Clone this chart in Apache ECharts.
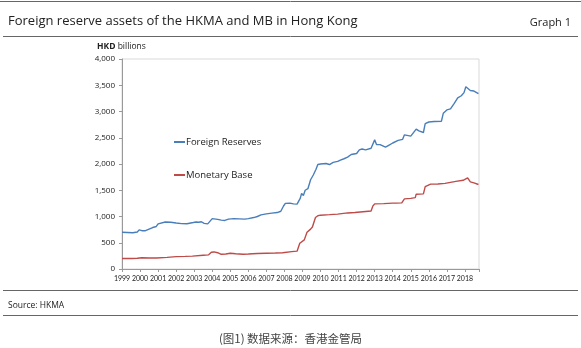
<!DOCTYPE html>
<html>
<head>
<meta charset="utf-8">
<script src="https://cdn.jsdelivr.net/npm/echarts@6/dist/echarts.min.js"></script>
<style>
html,body{margin:0;padding:0;background:#fff;}
#c{width:581px;height:348px;}
</style>
</head>
<body>
<div id="c"></div>
<script>
// Foreign Reserves (HKD billions), sampled at fractional years
const fxYears = [1999.0,1999.3,1999.6,1999.85,1999.95,2000.1,2000.3,2000.5,2000.7,2000.9,2001.0,2001.1,2001.4,2001.7,2002.0,2002.3,2002.6,2002.95,2003.1,2003.25,2003.4,2003.55,2003.75,2003.85,2004.0,2004.1,2004.3,2004.5,2004.7,2004.9,2005.0,2005.2,2005.5,2005.8,2006.0,2006.05,2006.3,2006.5,2006.7,2007.0,2007.3,2007.6,2007.8,2007.95,2008.05,2008.3,2008.5,2008.7,2008.8,2008.88,2008.95,2009.05,2009.15,2009.3,2009.45,2009.6,2009.75,2009.85,2010.0,2010.3,2010.5,2010.7,2010.95,2011.1,2011.3,2011.5,2011.7,2012.0,2012.15,2012.3,2012.5,2012.8,2012.9,2013.0,2013.1,2013.3,2013.6,2013.8,2014.0,2014.3,2014.55,2014.65,2014.75,2015.0,2015.1,2015.3,2015.45,2015.7,2015.8,2016.0,2016.3,2016.7,2016.8,2017.0,2017.2,2017.4,2017.6,2017.8,2017.95,2018.05,2018.15,2018.3,2018.5,2018.6,2018.75];
const fxValues = [700,695,690,705,745,730,730,760,790,810,860,890,895,890,875,865,862,885,895,890,900,870,860,880,960,970,945,930,925,950,970,960,955,950,960,985,980,1000,1030,1050,1065,1075,1100,1200,1250,1255,1240,1235,1215,1350,1440,1400,1500,1530,1700,1790,1900,1990,2000,2010,1990,2030,2050,2075,2100,2130,2180,2200,2270,2285,2270,2300,2330,2460,2370,2370,2320,2360,2400,2450,2470,2555,2520,2530,2555,2665,2630,2600,2770,2800,2810,2815,2965,3030,3050,3150,3260,3300,3360,3470,3460,3400,3390,3360,3340];
// Monetary Base (HKD billions)
const mbYears = [1999.0,1999.5,1999.85,1999.95,2000.1,2000.5,2000.9,2001.0,2001.5,2002.0,2002.5,2002.9,2003.0,2003.5,2003.8,2003.95,2004.1,2004.3,2004.5,2004.75,2005.0,2005.3,2005.7,2006.0,2006.05,2006.5,2007.0,2007.5,2007.9,2008.0,2008.4,2008.7,2008.75,2008.85,2008.95,2009.1,2009.25,2009.45,2009.55,2009.72,2009.85,2010.0,2010.5,2010.95,2011.0,2011.5,2011.9,2012.0,2012.5,2012.8,2012.9,2013.0,2013.5,2014.0,2014.05,2014.2,2014.5,2014.65,2015.0,2015.25,2015.3,2015.7,2015.8,2015.9,2016.1,2016.5,2016.9,2017.0,2017.5,2017.9,2018.15,2018.3,2018.5,2018.75];
const mbValues = [200,200,205,235,215,210,210,222,222,235,240,245,262,262,270,320,325,310,280,285,300,290,282,285,300,295,300,305,310,335,330,340,360,490,520,555,700,760,800,980,1015,1025,1035,1045,1065,1068,1075,1090,1095,1105,1200,1240,1245,1255,1275,1255,1260,1335,1345,1360,1425,1430,1570,1605,1617,1620,1630,1660,1670,1690,1735,1660,1640,1610];
const seriesNames = ['Foreign Reserves','Monetary Base'];
const yTicks = {min:0, max:4000, step:500};
const xRange = {min:1999, max:2018.78, step:1};

const pair = (xs, ys) => xs.map((x,i)=>[x, ys[i]]);
const F = '"Open Sans", "Liberation Sans", sans-serif';
const FN = 'Lato, "Liberation Sans", sans-serif';

const chart = echarts.init(document.getElementById('c'), null, {renderer:'canvas'});
chart.setOption({
  animation:false,
  backgroundColor:'#fff',
  textStyle:{fontFamily:F},
  title:[
    {text:'Foreign reserve assets of the HKMA and MB in Hong Kong', left:3, top:10, textStyle:{fontSize:13, fontWeight:'normal', color:'#222', fontFamily:F}},
    {text:'Graph 1', right:5, top:12, textStyle:{fontSize:11, fontWeight:'normal', color:'#222', fontFamily:F}},
    {text:'Source: HKMA', left:3, top:296, textStyle:{fontSize:8.5, fontWeight:'normal', color:'#222', fontFamily:F}},
    {text:'(图1) 数据来源：香港金管局', left:'center', top:328, textStyle:{fontSize:11.5, fontWeight:'normal', color:'#444', fontFamily:'"Noto Sans CJK SC", sans-serif'}}
  ],
  graphic:[
    {type:'line', shape:{x1:0,y1:1.5,x2:581,y2:1.5}, style:{stroke:'#666', lineWidth:1}},
    {type:'line', shape:{x1:3,y1:36.5,x2:578,y2:36.5}, style:{stroke:'#666', lineWidth:1}},
    {type:'line', shape:{x1:3,y1:290.5,x2:578,y2:290.5}, style:{stroke:'#666', lineWidth:1}},
    {type:'line', shape:{x1:3,y1:315.5,x2:578,y2:315.5}, style:{stroke:'#666', lineWidth:1}},
    {type:'text', left:97, top:42, style:{text:'{b|HKD} billions', rich:{b:{fontWeight:'bold', fontSize:8.5, fontFamily:F, fill:'#222'}}, fontSize:8.5, fontFamily:F, fill:'#222'}}
  ],
  legend:{
    orient:'vertical', left:169, top:132, itemGap:23,
    itemWidth:11, itemHeight:2, icon:'rect',
    textStyle:{fontSize:9.5, color:'#222', fontFamily:F, padding:[0,0,0,-4]},
    data:seriesNames
  },
  grid:{left:122, right:102, top:59, bottom:79, show:true, borderColor:'#d9d9d9', borderWidth:1},
  xAxis:{
    type:'value', min:xRange.min, max:xRange.max, interval:xRange.step,
    axisLine:{show:true, lineStyle:{color:'#999'}},
    axisTick:{show:true, length:3, lineStyle:{color:'#999'}},
    splitLine:{show:false},
    axisLabel:{fontSize:7, color:'#222', margin:6, fontFamily:FN, showMinLabel:true, hideOverlap:false,
      formatter:v => Number.isInteger(v) ? String(v) : ''}
  },
  yAxis:{
    type:'value', min:yTicks.min, max:yTicks.max, interval:yTicks.step,
    axisLine:{show:true, lineStyle:{color:'#999'}},
    axisTick:{show:true, length:3, lineStyle:{color:'#999'}},
    splitLine:{show:false},
    axisLabel:{fontSize:8, color:'#222', margin:7, fontFamily:F,
      formatter:v => v.toLocaleString('en-US')}
  },
  series:[
    {name:seriesNames[0], type:'line', data:pair(fxYears, fxValues), showSymbol:false, symbol:'none',
     lineStyle:{color:'#4a7ebb', width:1.4}, itemStyle:{color:'#4a7ebb'}},
    {name:seriesNames[1], type:'line', data:pair(mbYears, mbValues), showSymbol:false, symbol:'none',
     lineStyle:{color:'#be4b48', width:1.4}, itemStyle:{color:'#be4b48'}}
  ]
});
</script>
</body>
</html>
